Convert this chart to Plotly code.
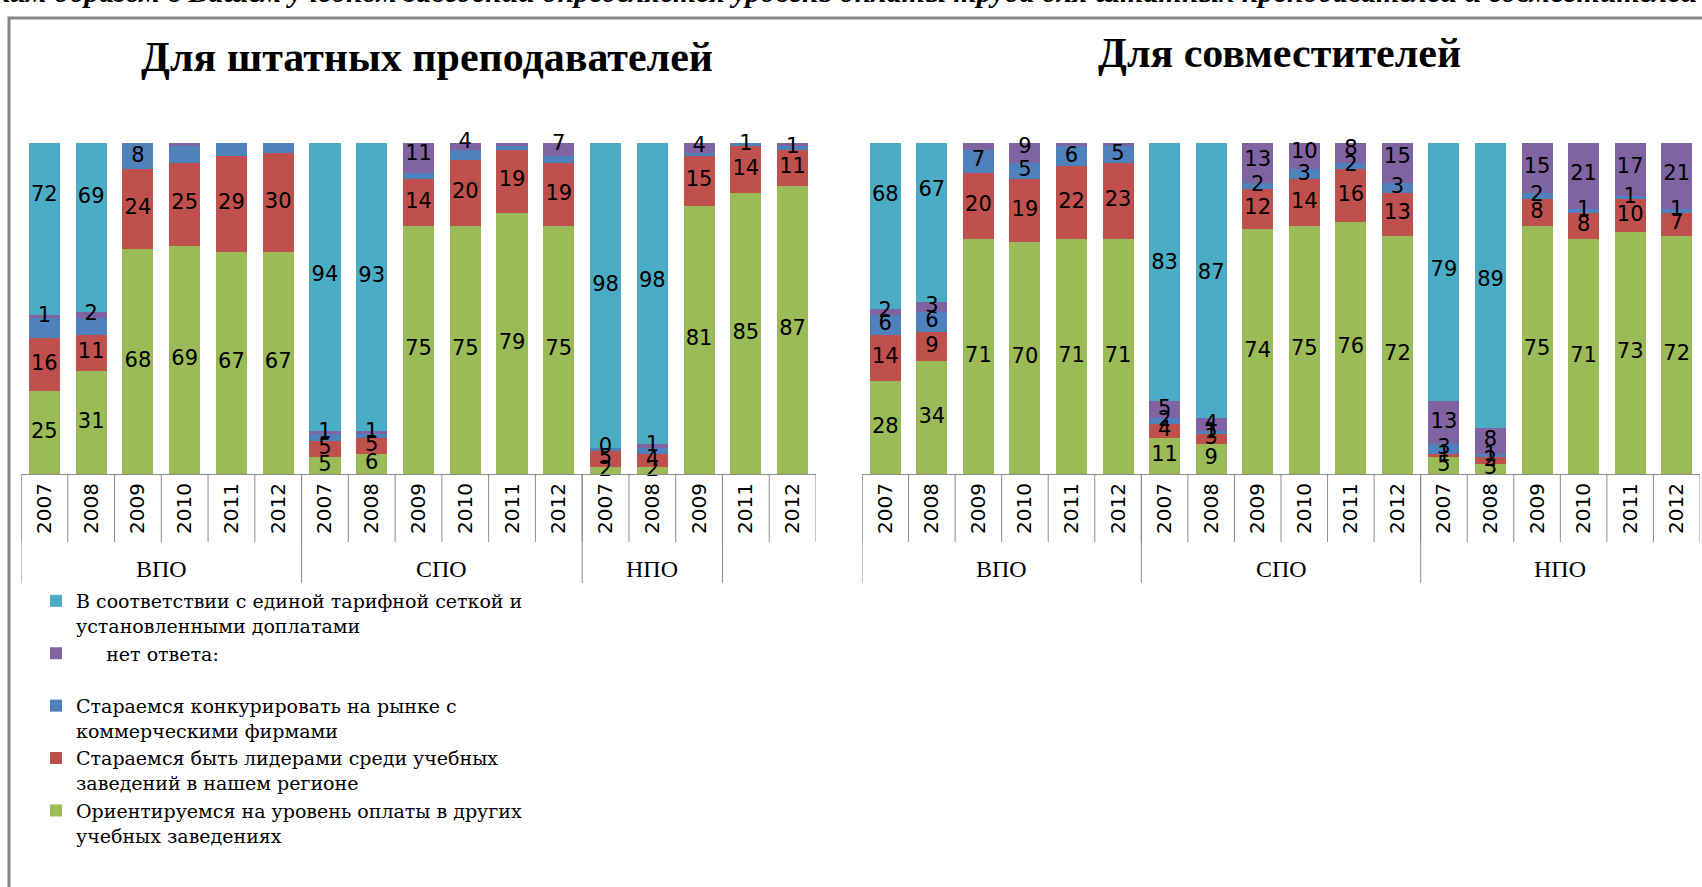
import plotly.graph_objects as go

W, H = 1702, 887

def px_x(x):
    return x / W

def px_y(y):
    return 1 - y / H

# ---------------- data ----------------
# Chart 1: "Для штатных преподавателей"
staff_years = ["2007", "2008", "2009", "2010", "2011", "2012",
               "2007", "2008", "2009", "2010", "2011", "2012",
               "2007", "2008", "2009", "2011", "2012"]
staff_groups = ["ВПО"] * 6 + ["СПО"] * 6 + ["НПО"] * 3 + [""] * 2

staff_green = [25, 31, 68, 69, 67, 67, 5, 6, 75, 75, 79, 75, 2, 2, 81, 85, 87]
staff_red = [16, 11, 24, 25, 29, 30, 5, 5, 14, 20, 19, 19, 5, 4, 15, 14, 11]
staff_blue = [6, 5, 8, 5, 5, 3, 2, 1, 2, 3, 1, 2, 1, 2, 1, 1, 1]
staff_purple = [1, 2, None, 2, None, None, 1, 1, 11, 4, 1, 7, 0, 1, 4, None, 3]
staff_cyan = [72, 69, None, None, None, None, 94, 93, None, None, None, None,
              98, 98, None, None, None]
# which data labels are shown in the original
staff_blue_shown = [0, 0, 1, 0, 0, 0, 0, 0, 0, 0, 0, 0, 0, 0, 0, 1, 1]
staff_purple_shown = [1, 1, 0, 0, 0, 0, 1, 1, 1, 1, 0, 1, 1, 1, 1, 0, 1]

# Chart 2: "Для совместителей"
part_years = ["2007", "2008", "2009", "2010", "2011", "2012"] * 3
part_groups = ["ВПО"] * 6 + ["СПО"] * 6 + ["НПО"] * 6

part_green = [28, 34, 71, 70, 71, 71, 11, 9, 74, 75, 76, 72, 5, 3, 75, 71, 73, 72]
part_red = [14, 9, 20, 19, 22, 23, 4, 3, 12, 14, 16, 13, 1, 2, 8, 8, 10, 7]
part_blue = [6, 6, 7, 5, 6, 5, 2, 1, 2, 3, 2, 3, 3, 1, 2, 1, 1, 1]
part_purple = [2, 3, 3, 9, 1, 1, 5, 4, 13, 10, 8, 15, 13, 8, 15, 21, 17, 21]
part_cyan = [68, 67, None, None, None, None, 83, 87, None, None, None, None,
             79, 89, None, None, None, None]
part_blue_shown = [1] * 18
part_purple_shown = [1, 1, 0, 1, 0, 0] + [1] * 12

series_names = {
    "green": "Ориентируемся на уровень оплаты в других<br>учебных заведениях",
    "red": "Стараемся быть лидерами среди учебных<br>заведений в нашем регионе",
    "blue": "Стараемся конкурировать на рынке с<br>коммерческими фирмами",
    "purple": "\u00a0" * 5 + "нет ответа:<br>\u00a0",
    "cyan": "В соответствии с единой тарифной сеткой и<br>установленными доплатами",
}
series_colors = {
    "green": "#9BBB59",
    "red": "#C0504D",
    "blue": "#4F81BD",
    "purple": "#8064A2",
    "cyan": "#4BACC6",
}

titles = ["Для штатных преподавателей", "Для совместителей"]
header_text = ("Каким образом в Вашем учебном заведении определяется уровень оплаты труда "
               "для штатных преподавателей и совместителей")

# ---------------- layout geometry ----------------
plot_top, plot_bottom = 143, 474
year_row_bottom = 542
group_row_bottom = 583
group_label_y = 569
left_dom = (21, 816)
right_dom = (862, 1700)

LABEL_FONT = dict(family="DejaVu Sans", size=21, color="black")
SERIF = "Liberation Serif, Times New Roman, serif"
LINE_COL = "#8C8C8C"

fig = go.Figure()

charts = [
    dict(xa="x", ya="y", years=staff_years, groups=staff_groups,
         data=[("green", staff_green, None), ("red", staff_red, None),
               ("blue", staff_blue, staff_blue_shown),
               ("purple", staff_purple, staff_purple_shown),
               ("cyan", staff_cyan, None)]),
    dict(xa="x2", ya="y2", years=part_years, groups=part_groups,
         data=[("green", part_green, None), ("red", part_red, None),
               ("blue", part_blue, part_blue_shown),
               ("purple", part_purple, part_purple_shown),
               ("cyan", part_cyan, None)]),
]

# stacked bars
for ci, ch in enumerate(charts):
    n = len(ch["years"])
    xs = list(range(n))
    for key, vals, shown in ch["data"]:
        fig.add_trace(go.Bar(
            x=xs, y=vals, name=series_names[key],
            marker=dict(color=series_colors[key], line=dict(width=0)),
            xaxis=ch["xa"], yaxis=ch["ya"], showlegend=(ci == 0),
            hoverinfo="x+y",
        ))

# data labels at the middle of each stacked segment (as Excel does)
for ci, ch in enumerate(charts):
    n = len(ch["years"])
    base = [0.0] * n
    lx, ly, lt = [], [], []
    for key, vals, shown in ch["data"]:
        for i, v in enumerate(vals):
            if v is None:
                continue
            if shown is None or shown[i]:
                lx.append(i)
                ly.append(base[i] + v / 2)
                lt.append(str(v))
            base[i] += v
    fig.add_trace(go.Scatter(
        x=lx, y=ly, text=lt, mode="text", textposition="middle center",
        textfont=LABEL_FONT, cliponaxis=False, showlegend=False,
        hoverinfo="skip", xaxis=ch["xa"], yaxis=ch["ya"],
    ))

shapes = []
annotations = []

# frame
shapes.append(dict(type="rect", xref="paper", yref="paper",
                   x0=px_x(9), x1=px_x(1760), y0=px_y(930), y1=px_y(18),
                   line=dict(color="#858585", width=3), fillcolor="rgba(0,0,0,0)",
                   layer="above"))

for ci, ch in enumerate(charts):
    xref = ch["xa"]
    n = len(ch["years"])
    groups = ch["groups"]
    # year separators
    for b in range(n + 1):
        shapes.append(dict(type="line", xref=xref, yref="paper",
                           x0=b - 0.5, x1=b - 0.5,
                           y0=px_y(plot_bottom), y1=px_y(year_row_bottom),
                           line=dict(color=LINE_COL, width=1)))
    # group separators and labels
    i = 0
    while i < n:
        j = i
        while j < n and groups[j] == groups[i]:
            j += 1
        shapes.append(dict(type="line", xref=xref, yref="paper",
                           x0=i - 0.5, x1=i - 0.5,
                           y0=px_y(plot_bottom), y1=px_y(group_row_bottom),
                           line=dict(color=LINE_COL, width=1)))
        if groups[i]:
            annotations.append(dict(
                x=(i + j - 1) / 2, y=px_y(group_label_y), xref=xref, yref="paper",
                text=groups[i], showarrow=False, xanchor="center", yanchor="middle",
                font=dict(family=SERIF, size=24, color="black")))
        i = j

# titles
annotations.append(dict(x=px_x(427), y=px_y(57), xref="paper", yref="paper",
                        text=titles[0], showarrow=False, xanchor="center", yanchor="middle",
                        font=dict(family=SERIF, size=42, color="black", weight="bold")))
annotations.append(dict(x=px_x(1279), y=px_y(53), xref="paper", yref="paper",
                        text=titles[1], showarrow=False, xanchor="center", yanchor="middle",
                        font=dict(family=SERIF, size=42, color="black", weight="bold")))
# cut-off header line
annotations.append(dict(x=px_x(1700), y=px_y(-9), xref="paper", yref="paper",
                        text=header_text, showarrow=False, xanchor="right", yanchor="middle",
                        font=dict(family=SERIF, size=30, color="black",
                                  weight="bold", style="italic")))

axis_common = dict(showgrid=False, zeroline=False, ticks="", tickangle=-90,
                   tickfont=dict(family="DejaVu Sans", size=20, color="black"),
                   showline=True, linecolor=LINE_COL, linewidth=1, fixedrange=True)

fig.update_layout(
    width=W, height=H,
    margin=dict(l=0, r=0, t=0, b=0, pad=0),
    paper_bgcolor="white", plot_bgcolor="white",
    barmode="stack", bargap=0.335,
    xaxis=dict(domain=[px_x(left_dom[0]), px_x(left_dom[1])], range=[-0.5, len(staff_years) - 0.5],
               tickmode="array", tickvals=list(range(len(staff_years))), ticktext=staff_years,
               anchor="y", **axis_common),
    xaxis2=dict(domain=[px_x(right_dom[0]), px_x(right_dom[1])], range=[-0.5, len(part_years) - 0.5],
                tickmode="array", tickvals=list(range(len(part_years))), ticktext=part_years,
                anchor="y2", **axis_common),
    yaxis=dict(domain=[px_y(plot_bottom), px_y(plot_top)], range=[0, 100], visible=False,
               fixedrange=True, anchor="x"),
    yaxis2=dict(domain=[px_y(plot_bottom), px_y(plot_top)], range=[0, 100], visible=False,
                fixedrange=True, anchor="x2"),
    legend=dict(x=px_x(36), y=px_y(582), xanchor="left", yanchor="top",
                traceorder="reversed", valign="top", tracegroupgap=0,
                font=dict(family="DejaVu Serif, Liberation Serif, serif", size=19, color="black"),
                bgcolor="rgba(0,0,0,0)", itemclick=False, itemdoubleclick=False),
    shapes=shapes,
    annotations=annotations,
    showlegend=True,
)

fig.write_html("out.html", config={"displayModeBar": False},
               post_script="document.body.style.margin='0';document.body.style.overflow='hidden';")
